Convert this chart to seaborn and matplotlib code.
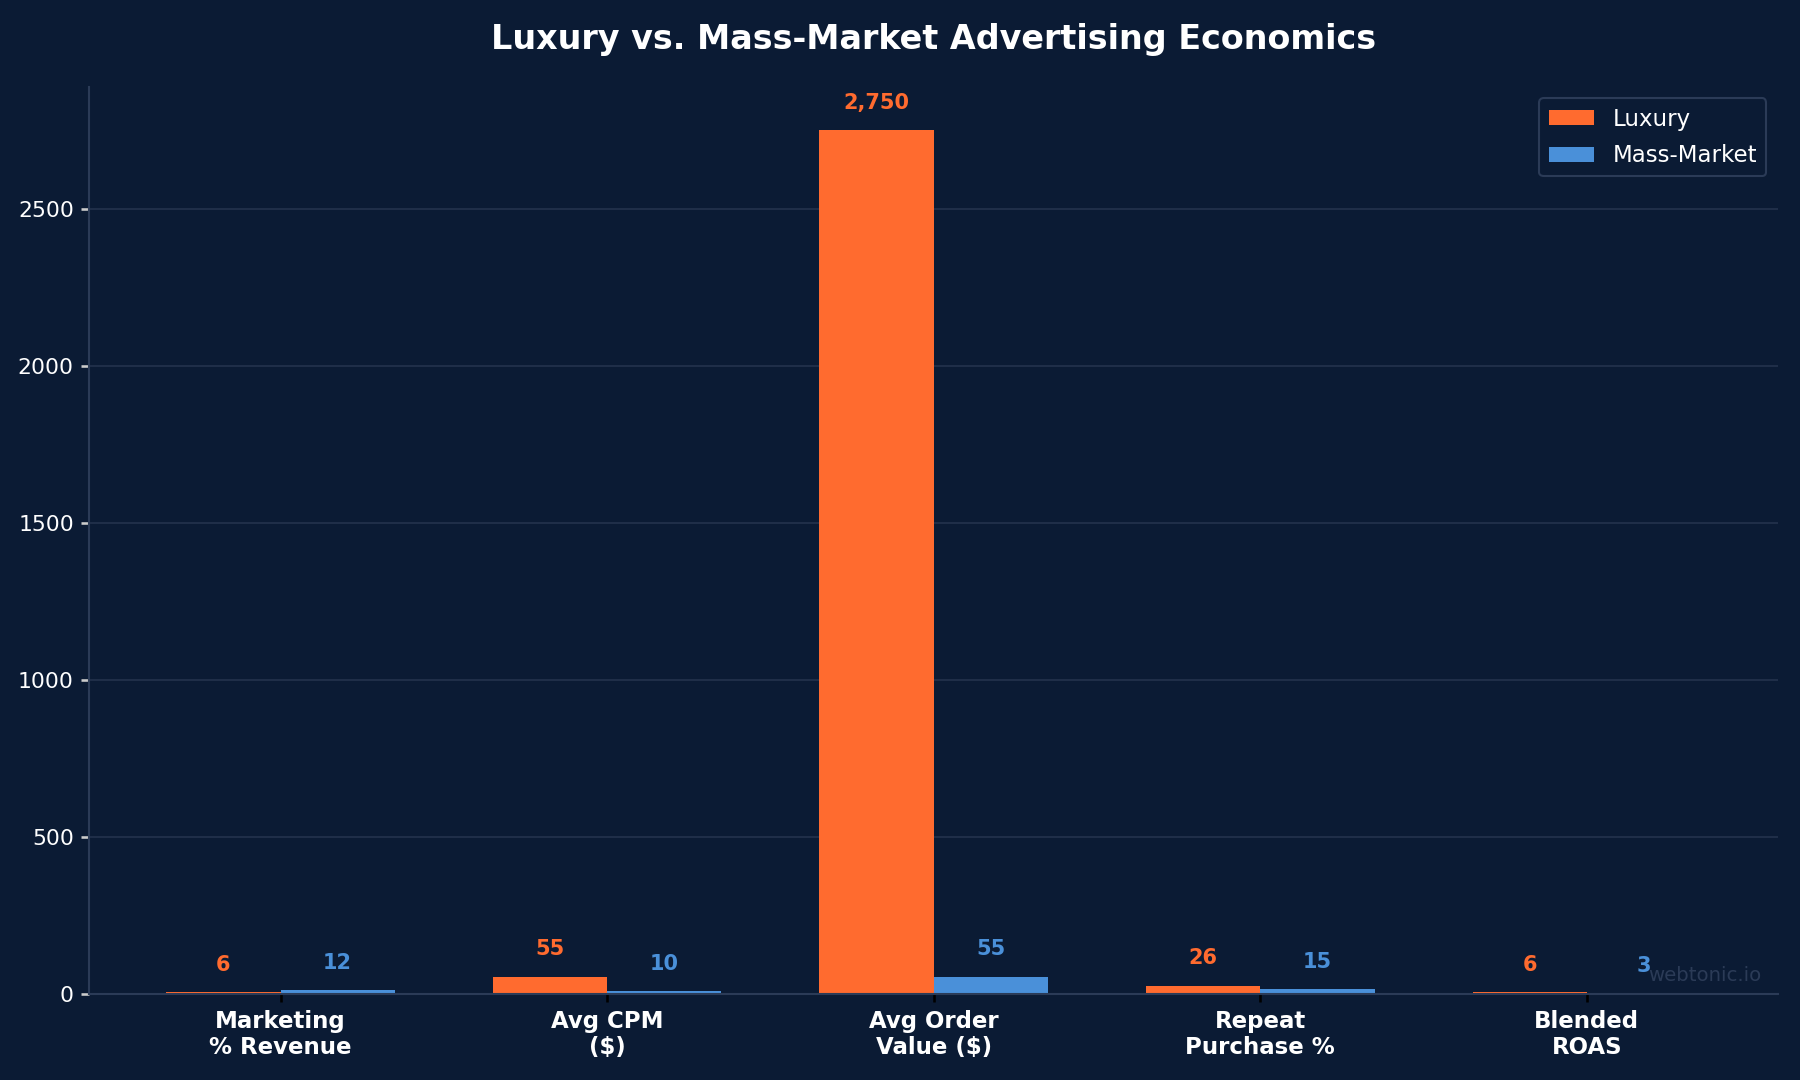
import pandas as pd
import matplotlib
matplotlib.use("Agg")
import matplotlib.pyplot as plt
import seaborn as sns

categories = ["Marketing\n% Revenue", "Avg CPM\n($)", "Avg Order\nValue ($)", "Repeat\nPurchase %", "Blended\nROAS"]
luxury = [6, 55, 2750, 26, 6]
mass_market = [12, 10, 55, 15, 3]
series = ["Luxury", "Mass-Market"]

bg = "#0b1b34"
grid_c = "#1f2e48"
spine_c = "#2b3b57"
colors = {"Luxury": "#ff6b2f", "Mass-Market": "#4a90d9"}

df = pd.DataFrame({
    "metric": categories * 2,
    "value": luxury + mass_market,
    "series": [series[0]] * len(categories) + [series[1]] * len(categories),
})

sns.set_theme(style="dark")
plt.rcParams["font.family"] = ["DejaVu Sans"]

fig = plt.figure(figsize=(12, 7.2), dpi=150, facecolor=bg)
ax = fig.add_axes([0.0497, 0.0797, 0.938, 0.8398])
ax.set_facecolor(bg)

sns.barplot(data=df, x="metric", y="value", hue="series", palette=colors,
            width=0.7, saturation=1, ax=ax, legend=True, linewidth=0, edgecolor="none")

ymax = max(luxury)
for cont, name in zip(ax.containers, series):
    for bar in cont:
        h = bar.get_height()
        ax.text(bar.get_x() + bar.get_width() / 2, h + ymax * 0.02, f"{h:,.0f}",
                ha="center", va="bottom", color=colors[name], fontsize=10, fontweight="bold")

ax.set_ylim(0, ymax * 1.05)
ax.set_xlim(-0.585, len(categories) - 1 + 0.585)
ax.set_xlabel("")
ax.set_ylabel("")
ax.grid(axis="y", color=grid_c, linewidth=1)
ax.set_axisbelow(True)
for s in ["top", "right"]:
    ax.spines[s].set_visible(False)
for s in ["left", "bottom"]:
    ax.spines[s].set_color(spine_c)
    ax.spines[s].set_linewidth(1)
ax.tick_params(axis="y", colors="white", labelsize=10.5, left=True, length=4, color="#cccccc")
ax.tick_params(axis="x", colors="white", labelsize=11, bottom=True, length=4, color="black")
for lab in ax.get_xticklabels():
    lab.set_fontweight("bold")

leg = ax.legend(loc="upper right", fontsize=11, facecolor=bg, edgecolor=spine_c,
                labelcolor="white", framealpha=1, handleheight=0.6, labelspacing=0.6)
leg.set_title(None)

ax.text(0.99, 0.01, "webtonic.io", transform=ax.transAxes, ha="right", va="bottom",
        color="#2b3b57", fontsize=9.5)

ax.set_title("Luxury vs. Mass-Market Advertising Economics", color="white",
             fontsize=16, fontweight="bold", pad=18)

fig.savefig("out.png", dpi=150, facecolor=bg)
